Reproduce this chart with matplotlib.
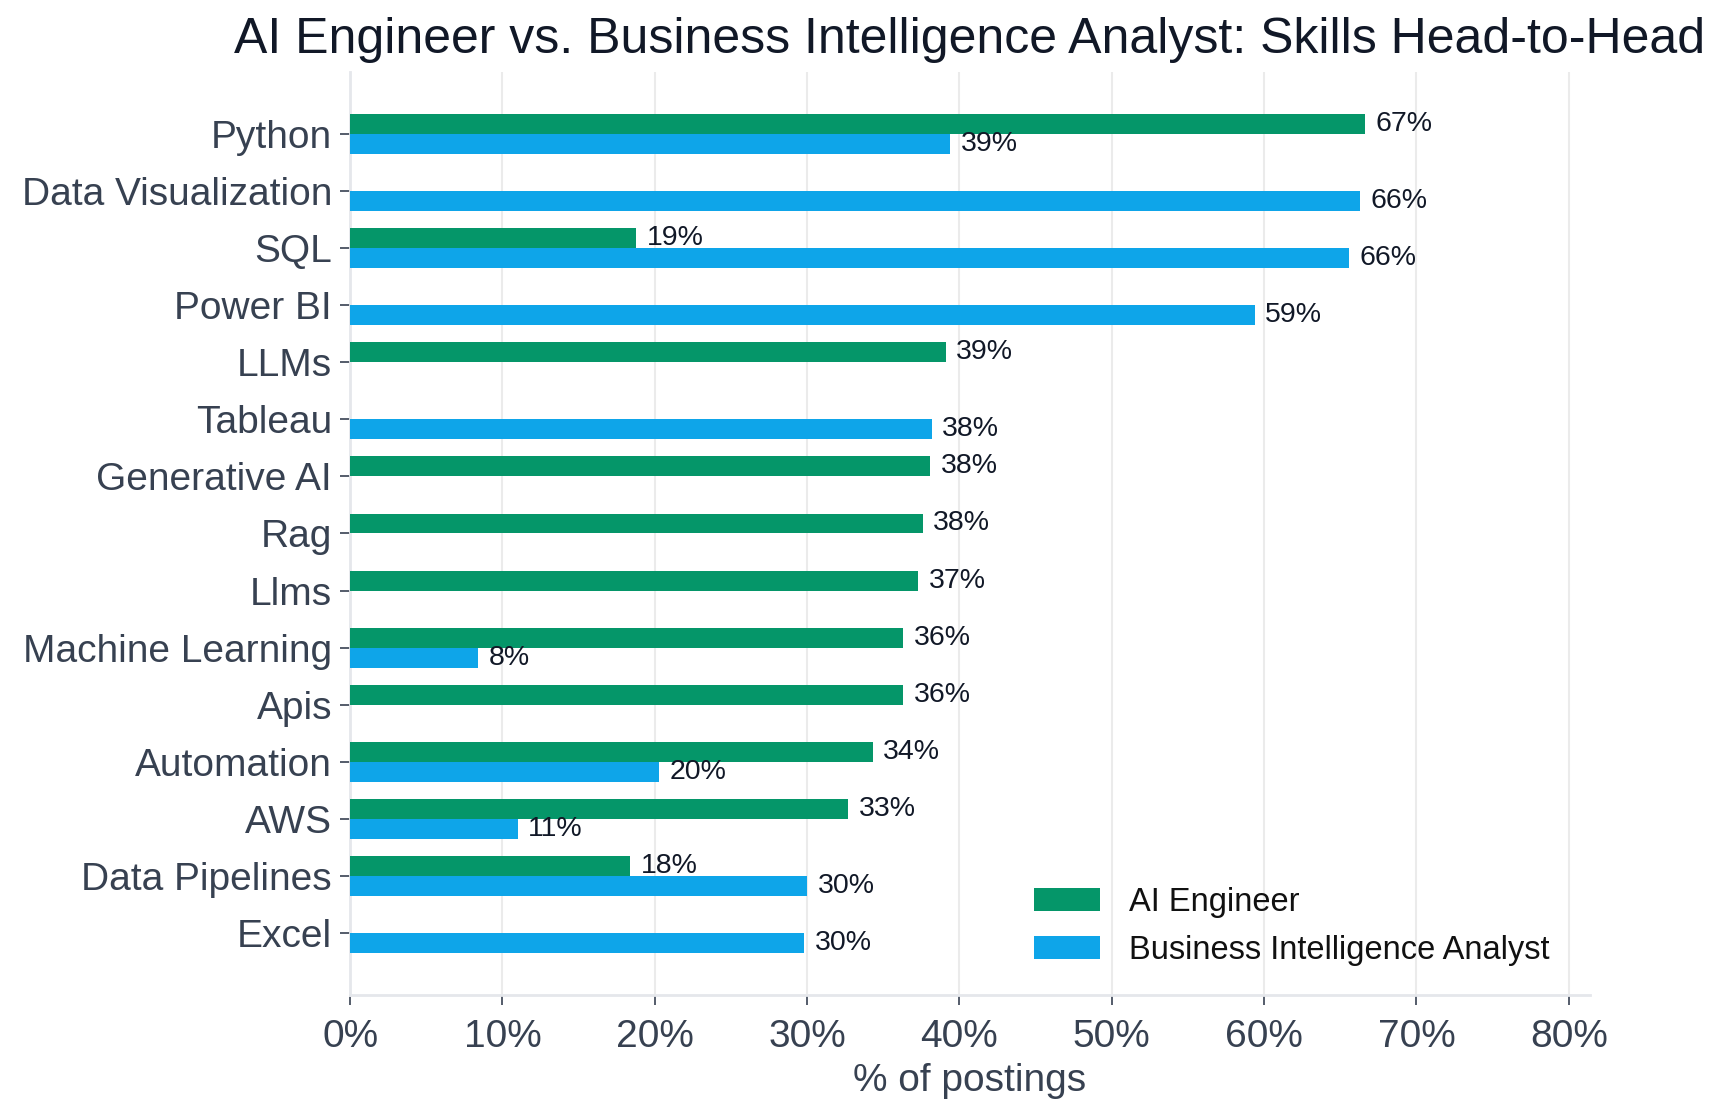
import matplotlib
matplotlib.use("Agg")
import matplotlib.pyplot as plt
import numpy as np
from matplotlib.ticker import FuncFormatter

plt.rcParams['font.family'] = ['Liberation Sans', 'DejaVu Sans']

skills = ["Python", "Data Visualization", "SQL", "Power BI", "LLMs", "Tableau",
          "Generative AI", "Rag", "Llms", "Machine Learning", "Apis", "Automation",
          "AWS", "Data Pipelines", "Excel"]
ai_engineer = [66.6, 0, 18.8, 0, 39.1, 0, 38.1, 37.6, 37.3, 36.3, 36.3, 34.3, 32.7, 18.4, 0]
bi_analyst = [39.4, 66.3, 65.6, 59.4, 0, 38.2, 0, 0, 0, 8.4, 0, 20.3, 11.0, 30.0, 29.8]
series_names = ["AI Engineer", "Business Intelligence Analyst"]
xticks = [0, 10, 20, 30, 40, 50, 60, 70, 80]

GREEN = "#059669"
BLUE = "#0ea5e9"
TEXT = "#374151"
DARK = "#111827"
GRID = "#ebebeb"

fig = plt.figure(figsize=(17.27, 11.19), dpi=100)
ax = fig.add_axes([0.2027, 0.1108, 0.7180, 0.8249])

y = np.arange(len(skills))
h = 0.35
b1 = ax.barh(y - h / 2, ai_engineer, height=h, color=GREEN, label=series_names[0], zorder=3)
b2 = ax.barh(y + h / 2, bi_analyst, height=h, color=BLUE, label=series_names[1], zorder=3)

ax.bar_label(b1, labels=[f"{v:.0f}%" if v > 0 else "" for v in ai_engineer],
             padding=7.5, fontsize=20.5, color=DARK)
ax.bar_label(b2, labels=[f"{v:.0f}%" if v > 0 else "" for v in bi_analyst],
             padding=7.5, fontsize=20.5, color=DARK)

ax.set_yticks(y)
ax.set_yticklabels(skills)
ax.invert_yaxis()
ax.set_xlim(0, 81.4)
ax.set_xticks(xticks)
ax.xaxis.set_major_formatter(FuncFormatter(lambda v, p: f"{v:.0f}%"))

ax.tick_params(axis='both', labelsize=28, colors=TEXT, length=7, width=1.2)
ax.tick_params(axis='y', pad=6)
ax.tick_params(axis='x', pad=10)

ax.set_xlabel("% of postings", fontsize=28, color=TEXT, labelpad=6)
ax.set_title("AI Engineer vs. Business Intelligence Analyst: Skills Head-to-Head",
             fontsize=36, color=DARK, pad=14)

for s in ["top", "right"]:
    ax.spines[s].set_visible(False)
for s in ["left", "bottom"]:
    ax.spines[s].set_color("#e5e7eb")
    ax.spines[s].set_linewidth(2)

ax.grid(axis='x', color=GRID, linewidth=1.5, zorder=0)
ax.set_axisbelow(True)

leg = ax.legend(loc='lower right', frameon=False, fontsize=23.5, handletextpad=0.9,
                bbox_to_anchor=(0.991, 0.0))
for t in leg.get_texts():
    t.set_color("#111111")

fig.savefig("out.png", dpi=100)
